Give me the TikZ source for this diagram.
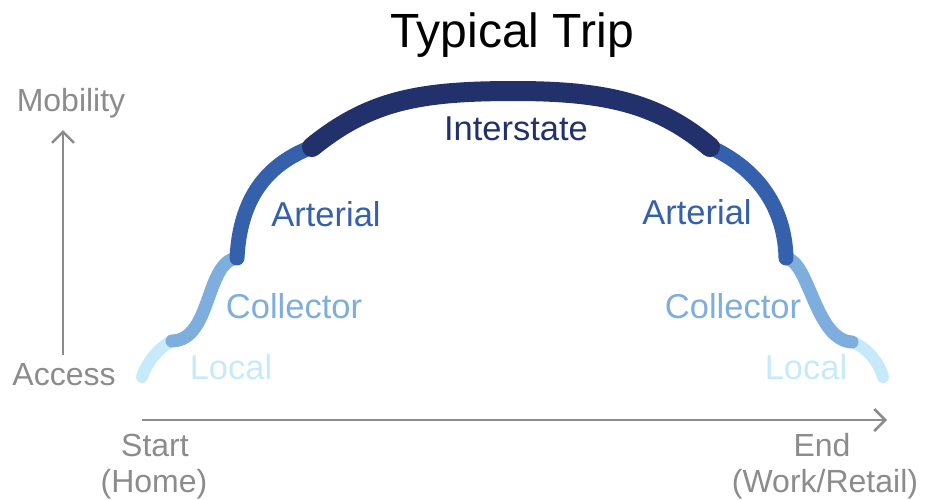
\documentclass[tikz,border=0pt]{standalone}
\usepackage{fontspec}
\setmainfont{Liberation Sans}
\usetikzlibrary{arrows.meta, positioning}

\definecolor{localc}{HTML}{C6EAFA}
\definecolor{collc}{HTML}{7DAEDD}
\definecolor{artc}{HTML}{3460AC}
\definecolor{interc}{HTML}{22316C}
\definecolor{axisc}{HTML}{8C8C8C}

\begin{document}
\begin{tikzpicture}[
  x=1pt, y=-1pt,
  road/.style = {line cap=round},
  lbl/.style = {anchor=base, inner sep=0pt, font=\fontsize{32}{38}\selectfont},
  roadlbl/.style = {lbl, font=\fontsize{34.5}{40}\selectfont},
  axis/.style = {draw=axisc, line width=2.5pt, -{Straight Barb[length=11pt, width=22pt, line width=2.5pt]}}
]

  \useasboundingbox (0,0) rectangle (932,499);

  % Junctions
  \coordinate (lstart) at (142,377);
  \coordinate (lc) at (172,341);
  \coordinate (ca) at (237,258);
  \coordinate (ai) at (312,147);
  \coordinate (itop) at (515,91);
  \coordinate (ia) at (710,147);
  \coordinate (ac) at (786,258);
  \coordinate (cl) at (852,342);
  \coordinate (lend) at (883,377);

  % Title
  \node[lbl, font=\fontsize{48}{56}\selectfont] (title) at (512,47) {Typical Trip};

  % Roads
  \draw[road, localc, line width=12pt] (lstart) .. controls (146,364) and (158,348) .. (lc);
  \draw[road, localc, line width=12pt] (cl) .. controls (866,346) and (880,364) .. (lend);
  \draw[road, collc, line width=13pt] (lc) .. controls (212,340) and (205,262) .. (ca);
  \draw[road, collc, line width=13pt] (ac) .. controls (810,262) and (815,340) .. (cl);
  \draw[road, artc, line width=15pt] (ca) .. controls (240,200) and (265,165) .. (ai);
  \draw[road, artc, line width=15pt] (ia) .. controls (760,170) and (785,210) .. (ac);
  \draw[road, interc, line width=20pt] (ai) .. controls (370,100) and (420,91) .. (itop)
    .. controls (610,91) and (660,105) .. (ia);

  % Road labels
  \node[roadlbl, text=interc] (interstate) at (516,140) {Interstate};
  \node[roadlbl, text=artc] (art1) at (326,226) {Arterial};
  \node[roadlbl, text=artc] (art2) at (697,224) {Arterial};
  \node[roadlbl, text=collc] (coll1) at (294,318) {Collector};
  \node[roadlbl, text=collc] (coll2) at (733,318) {Collector};
  \node[roadlbl, text=localc] (loc1) at (231,379) {Local};
  \node[roadlbl, text=localc] (loc2) at (806,379) {Local};

  % Axes
  \node[lbl, text=axisc] (mobility) at (71,111) {Mobility};
  \node[lbl, text=axisc] (access) at (64,385) {Access};
  \node[lbl, text=axisc] (start) at (155,456) {Start};
  \node[lbl, text=axisc] (home) at (154,492) {(Home)};
  \node[lbl, text=axisc] (end) at (822,456) {End};
  \node[lbl, text=axisc] (work) at (825,492) {(Work/Retail)};

  \coordinate (ybot) at (63,355);
  \coordinate (ytop) at (63,130);
  \coordinate (xleft) at (142,420);
  \coordinate (xright) at (887,420);
  \draw[axis] (ybot) -- (ytop);
  \draw[axis] (xleft) -- (xright);

\end{tikzpicture}
\end{document}
